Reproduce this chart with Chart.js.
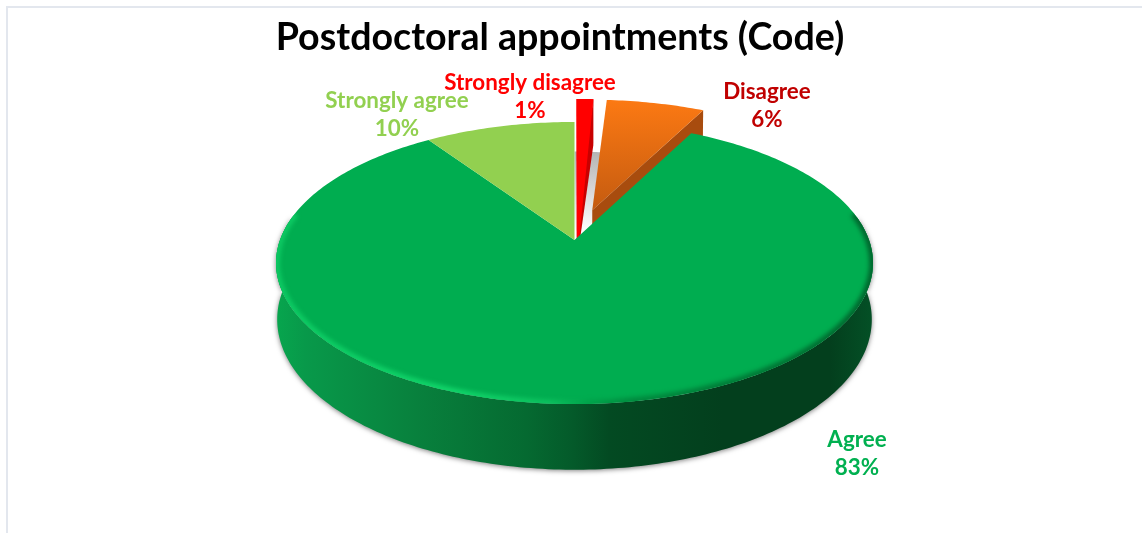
<!DOCTYPE html>
<html>
<head>
<meta charset="utf-8">
<title>Postdoctoral appointments (Code)</title>
<script src="https://cdn.jsdelivr.net/npm/chart.js@4"></script>
<style>
  html, body { margin: 0; background: #fff; overflow: hidden; }
  #frame { position: absolute; left: 6px; top: 6px; width: 1200px; height: 600px; border: 2px solid #e3e7ee; }
  #wrap { position: absolute; left: 0; top: 0; width: 1142px; height: 533px; }
</style>
</head>
<body>
<div id="frame"></div>
<div id="wrap"><canvas id="pie"></canvas></div>
<script>
const categories = ['Strongly disagree', 'Disagree', 'Agree', 'Strongly agree'];
const shares = [1.1, 6.4, 83, 9.5];
const sliceColors = ['#ff0000', '#f97612', '#00ad50', '#92d050'];
const labelColors = ['#ff0000', '#c00000', '#00b050', '#92d050'];
const explodes = [0.234, 0.234, 0, 0];
// centre of each two line label
const labelSpots = [[530, 97], [767, 106], [857, 454], [397, 115]];

// perspective of the tilted disc
const FX = 574.5, FY = 240, A = 294.5, B = 137.3, P = 0.163, D = 55;

function tilt(u, v, h) {
  const s = 1 / (1 + P * v);
  const shrink = 1 - 0.004 * h;
  return { x: FX + A * u * s * shrink, y: FY - B * v * s + D * h * s };
}

function shift(el, i) {
  const mid = (el.startAngle + el.endAngle) / 2;
  return { u: explodes[i] * Math.cos(mid), v: -explodes[i] * Math.sin(mid) };
}

function rim(el, i, a, r, h) {
  const o = shift(el, i);
  return tilt(o.u + r * Math.cos(a), o.v - r * Math.sin(a), h);
}

function polygon(ctx, pts) {
  ctx.beginPath();
  pts.forEach((p, k) => k ? ctx.lineTo(p.x, p.y) : ctx.moveTo(p.x, p.y));
  ctx.closePath();
}

function arcPoints(el, i, from, to, r, h) {
  const pts = [];
  const n = Math.max(2, Math.ceil(Math.abs(to - from) * 60));
  for (let k = 0; k <= n; k++) pts.push(rim(el, i, from + (to - from) * k / n, r, h));
  return pts;
}

function facePoints(el, i, r) {
  return [rim(el, i, 0, 0, 0)].concat(arcPoints(el, i, el.startAngle, el.endAngle, r || 1, 0));
}

// side wall along one straight edge of a slice
function radialWall(ctx, el, i, a, fill) {
  polygon(ctx, [rim(el, i, a, 0, 0), rim(el, i, a, 1, 0), rim(el, i, a, 1, 1), rim(el, i, a, 0, 1)]);
  ctx.fillStyle = fill;
  ctx.fill();
}

function frontWall(ctx, el, i) {
  const from = Math.max(el.startAngle, -0.17);
  const to = Math.min(el.endAngle, Math.PI + 0.17);
  const g = ctx.createLinearGradient(275, 0, 872, 0);
  [[0, '#07a64e'], [0.05, '#08994a'], [0.25, '#087f3c'], [0.42, '#056a31'], [0.5, '#045a2a'],
   [0.56, '#034a22'], [0.75, '#033f1d'], [0.93, '#033f1d'], [1, '#045026']]
    .forEach(s => g.addColorStop(s[0], s[1]));
  ctx.save();
  ctx.shadowColor = 'rgba(0,0,0,0.5)';
  ctx.shadowBlur = 5;
  ctx.shadowOffsetY = 1;
  polygon(ctx, arcPoints(el, i, from, to, 1, 0).concat(arcPoints(el, i, to, from, 1, 1)));
  ctx.fillStyle = g;
  ctx.fill();
  ctx.restore();
}

// soft bevel along the front edge of the big slice
function bevel(ctx, el, i) {
  const from = Math.max(el.startAngle, -0.2);
  const to = Math.min(el.endAngle, Math.PI + 0.2);
  const g = ctx.createLinearGradient(275, 0, 872, 0);
  [[0, '#0cc862'], [0.3, '#10d469'], [0.46, '#0cc05e'], [0.53, '#00a049'], [0.6, '#008a3e'], [1, '#00672e']]
    .forEach(s => g.addColorStop(s[0], s[1]));
  ctx.save();
  polygon(ctx, facePoints(el, i));
  ctx.clip();
  ctx.filter = 'blur(2px)';
  ctx.beginPath();
  arcPoints(el, i, from, to, 1, 0).forEach((p, k) => k ? ctx.lineTo(p.x, p.y) : ctx.moveTo(p.x, p.y));
  ctx.strokeStyle = g;
  ctx.lineWidth = 8;
  ctx.stroke();
  ctx.restore();
}

const tiltedPie = {
  id: 'tiltedPie',
  beforeDatasetsDraw(chart) {
    const ctx = chart.ctx;
    const arcs = chart.getDatasetMeta(0).data;
    ctx.save();

    // grey patch left in the gap by the pulled out slices
    const gap = ctx.createLinearGradient(0, 152, 0, 232);
    gap.addColorStop(0, '#b4b4b4');
    gap.addColorStop(1, '#ffffff');
    polygon(ctx, [tilt(0, 0, 0)].concat(
      arcPoints(arcs[2], 2, arcs[0].startAngle, arcs[1].endAngle, 0.72, 0)));
    ctx.fillStyle = gap;
    ctx.fill();

    radialWall(ctx, arcs[1], 1, arcs[1].endAngle, '#a84c0e');
    radialWall(ctx, arcs[0], 0, arcs[0].endAngle, '#c80000');
    // lit inner side of the thin red slice
    polygon(ctx, [rim(arcs[0], 0, arcs[0].startAngle, 1, 0), rim(arcs[0], 0, arcs[0].endAngle, 1, 0),
      rim(arcs[0], 0, arcs[0].endAngle, 0, 1), rim(arcs[0], 0, arcs[0].startAngle, 0, 1)]);
    ctx.fillStyle = sliceColors[0];
    ctx.fill();
    frontWall(ctx, arcs[2], 2);

    const glow = ctx.createLinearGradient(0, 100, 0, 215);
    glow.addColorStop(0, '#fc7913');
    glow.addColorStop(1, '#c25a10');
    arcs.forEach((el, i) => {
      polygon(ctx, facePoints(el, i));
      ctx.fillStyle = i === 1 ? glow : sliceColors[i];
      ctx.fill();
    });
    bevel(ctx, arcs[2], 2);
    ctx.restore();
    return false;
  },
  afterDraw(chart) {
    const ctx = chart.ctx;
    ctx.save();
    ctx.font = 'bold 22.4px Lato';
    ctx.textAlign = 'center';
    ctx.textBaseline = 'middle';
    categories.forEach((name, i) => {
      ctx.fillStyle = labelColors[i];
      ctx.fillText(name, labelSpots[i][0], labelSpots[i][1] - 14);
      ctx.fillText(Math.round(shares[i]) + '%', labelSpots[i][0], labelSpots[i][1] + 14);
    });
    ctx.restore();
  }
};

new Chart(document.getElementById('pie'), {
  type: 'pie',
  data: {
    labels: categories,
    datasets: [{ data: shares, backgroundColor: sliceColors, borderWidth: 0 }]
  },
  plugins: [tiltedPie],
  options: {
    responsive: true,
    maintainAspectRatio: false,
    animation: false,
    layout: { padding: { right: 22 } },
    plugins: {
      legend: { display: false },
      tooltip: { enabled: false },
      title: {
        display: true,
        text: 'Postdoctoral appointments (Code)',
        color: '#000',
        font: { family: 'Lato', size: 37.6, weight: 'bold' },
        padding: { top: 15, bottom: 10 }
      }
    }
  }
});
</script>
</body>
</html>
